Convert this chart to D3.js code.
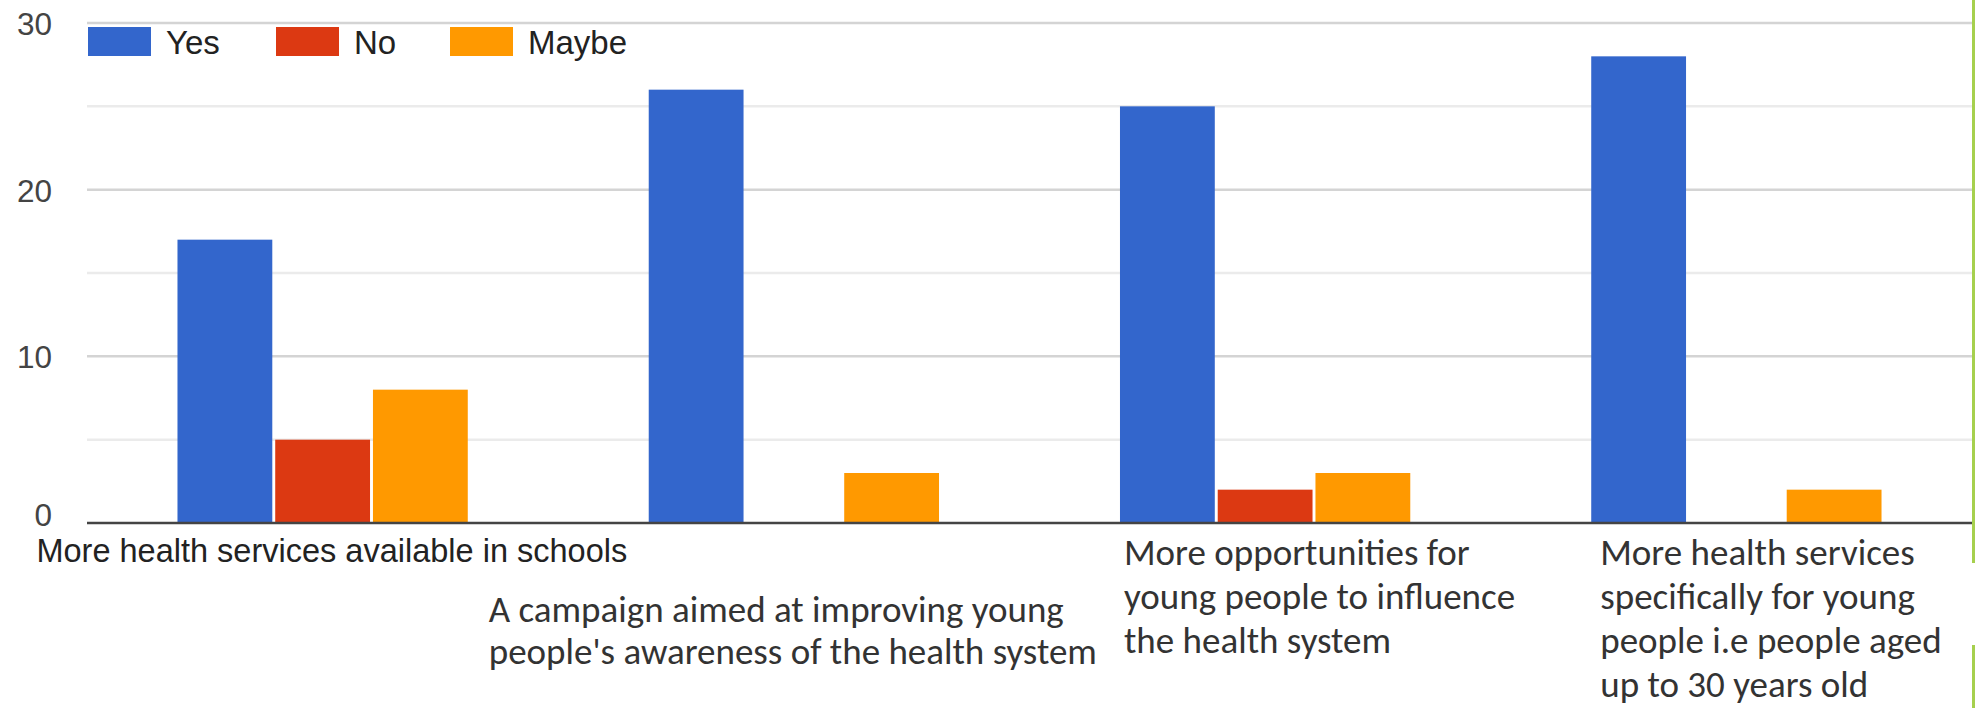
<!DOCTYPE html>
<html>
<head>
<meta charset="utf-8">
<script src="https://cdn.jsdelivr.net/npm/d3@7"></script>
<style>
  html, body { margin: 0; padding: 0; background: #fff; }
  svg { display: block; }
</style>
</head>
<body>
<svg id="chart" width="1975" height="708"></svg>
<script>
// Survey answers per proposal
const categories = [
  "More health services available in schools",
  "A campaign aimed at improving young people's awareness of the health system",
  "More opportunities for young people to influence the health system",
  "More health services specifically for young people i.e people aged up to 30 years old"
];
const series = ["Yes", "No", "Maybe"];
const yesValues = [17, 26, 25, 28];
const noValues = [5, 0, 2, 0];
const maybeValues = [8, 3, 3, 2];
const majorTicks = [0, 10, 20, 30];
const minorTicks = [5, 15, 25];

// Category labels as they are broken into lines
const labelLines = [
  ["More health services available in schools"],
  ["A campaign aimed at improving young", "people's awareness of the health system"],
  ["More opportunities for", "young people to influence", "the health system"],
  ["More health services", "specifically for young", "people i.e people aged", "up to 30 years old"]
];

const colors = { Yes: "#3366cc", No: "#dc3912", Maybe: "#ff9900" };
const valuesBySeries = { Yes: yesValues, No: noValues, Maybe: maybeValues };

const svg = d3.select("#chart");
const plotLeft = 87, plotRight = 1972, plotTop = 23, plotBottom = 523;

const x0 = d3.scaleBand().domain(categories).range([plotLeft, plotRight])
  .paddingInner(0.384).paddingOuter(0.192);
const x1 = d3.scaleBand().domain(series).range([0, x0.bandwidth()]).paddingInner(0.03);
const y = d3.scaleLinear().domain([0, 30]).range([plotBottom, plotTop]);

// Minor gridlines
svg.append("g").selectAll("line").data(minorTicks).join("line")
  .attr("x1", plotLeft).attr("x2", plotRight)
  .attr("y1", d => y(d)).attr("y2", d => y(d))
  .attr("stroke", "#ebebeb").attr("stroke-width", 2.5);

// Major gridlines
svg.append("g").selectAll("line").data(majorTicks.filter(d => d > 0)).join("line")
  .attr("x1", plotLeft).attr("x2", plotRight)
  .attr("y1", d => y(d)).attr("y2", d => y(d))
  .attr("stroke", "#d4d4d4").attr("stroke-width", 2.5);

// Y axis tick labels; the zero label sits a little above the baseline
const yAxis = d3.axisLeft(y).tickValues(majorTicks).tickSize(0).tickPadding(0);
const yg = svg.append("g").attr("transform", "translate(52,0)").call(yAxis);
yg.select(".domain").remove();
yg.selectAll("text")
  .attr("font-family", "Liberation Sans, Arial, sans-serif")
  .attr("font-size", 31.5)
  .attr("fill", "#444")
  .attr("dy", d => d === 0 ? "0.08em" : "0.36em");

// Bars
const groups = svg.append("g").selectAll("g").data(categories).join("g")
  .attr("transform", d => `translate(${x0(d)},0)`);
groups.selectAll("rect")
  .data((c, i) => series.map(s => ({ s, v: valuesBySeries[s][i] })))
  .join("rect")
  .attr("x", d => x1(d.s))
  .attr("width", x1.bandwidth())
  .attr("y", d => y(d.v))
  .attr("height", d => y(0) - y(d.v))
  .attr("fill", d => colors[d.s]);

// Baseline
svg.append("line")
  .attr("x1", plotLeft).attr("x2", plotRight)
  .attr("y1", y(0)).attr("y2", y(0))
  .attr("stroke", "#444").attr("stroke-width", 2.5);

// Legend
const legendX = [88, 276, 450];
const legend = svg.append("g").selectAll("g").data(series).join("g")
  .attr("transform", (d, i) => `translate(${legendX[i]},27)`);
legend.append("rect").attr("width", 63).attr("height", 29)
  .attr("fill", d => colors[d]);
legend.append("text").attr("x", 78).attr("y", 27)
  .attr("font-family", "Liberation Sans, Arial, sans-serif")
  .attr("font-size", 33).attr("fill", "#222")
  .text(d => d);

// Category labels
const labelOffsetX = [-141, -160, 4, 9];
const labelFirstBaseline = [562, 622, 565, 565];
const labelFont = [
  { family: "Liberation Sans, Arial, sans-serif", size: 32.5, lh: 0, fill: "#222" },
  { family: "Carlito, Lato, sans-serif", size: 37, lh: 42, fill: "#333" },
  { family: "Carlito, Lato, sans-serif", size: 37, lh: 44, fill: "#333" },
  { family: "Carlito, Lato, sans-serif", size: 37, lh: 44, fill: "#333" }
];
const labels = svg.append("g").selectAll("text").data(categories).join("text")
  .attr("x", (d, i) => x0(d) + labelOffsetX[i])
  .attr("y", (d, i) => labelFirstBaseline[i])
  .attr("font-family", (d, i) => labelFont[i].family)
  .attr("font-size", (d, i) => labelFont[i].size)
  .attr("fill", (d, i) => labelFont[i].fill);
labels.each(function(d, i) {
  d3.select(this).selectAll("tspan").data(labelLines[i]).join("tspan")
    .attr("x", x0(d) + labelOffsetX[i])
    .attr("dy", (t, j) => j === 0 ? 0 : labelFont[i].lh)
    .text(t => t);
});

// Green frame edge on the right
svg.append("rect").attr("x", 1972).attr("y", 0).attr("width", 4).attr("height", 563).attr("fill", "#a6d04e");
svg.append("rect").attr("x", 1972).attr("y", 645).attr("width", 4).attr("height", 63).attr("fill", "#a6d04e");
</script>
</body>
</html>
